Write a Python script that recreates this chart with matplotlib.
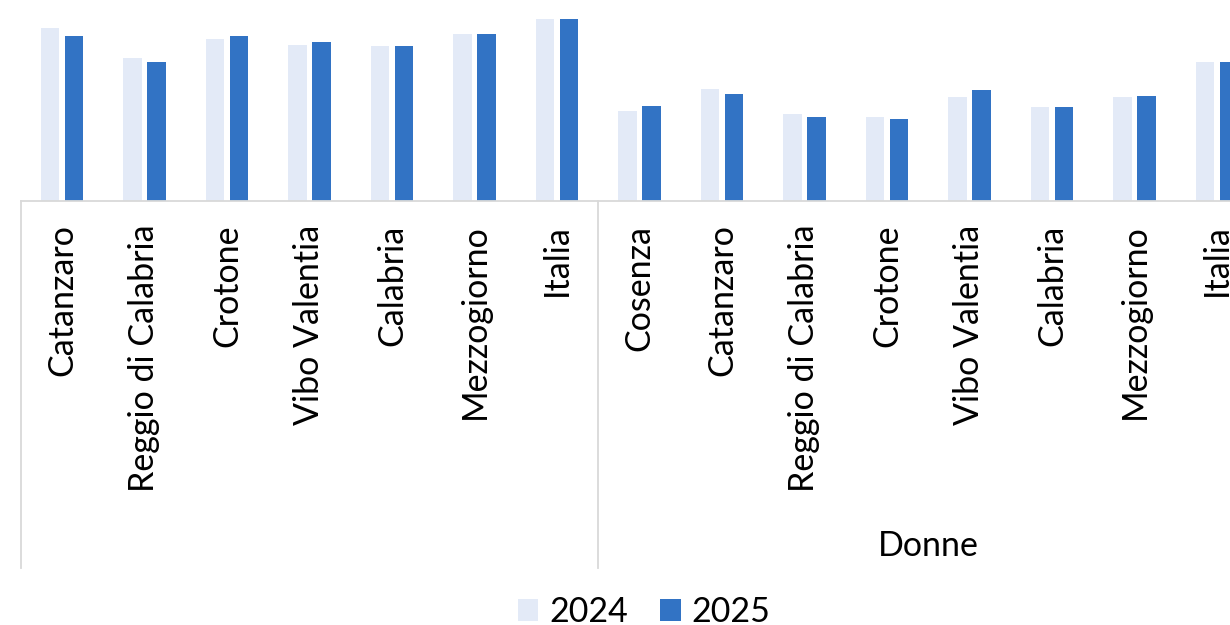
import matplotlib
matplotlib.use("Agg")
import matplotlib.pyplot as plt
from matplotlib.patches import Patch
import numpy as np

# Category labels (two groups on a shared axis)
uomini_labels = ["Catanzaro", "Reggio di Calabria", "Crotone", "Vibo Valentia",
                 "Calabria", "Mezzogiorno", "Italia"]
donne_labels = ["Cosenza", "Catanzaro", "Reggio di Calabria", "Crotone",
                "Vibo Valentia", "Calabria", "Mezzogiorno", "Italia"]

# Values (%)
uomini_2024 = [72.1, 59.6, 67.6, 65.1, 64.7, 69.4, 75.8]
uomini_2025 = [68.9, 57.9, 68.8, 66.3, 64.4, 69.6, 75.7]
donne_2024 = [37.5, 46.7, 36.3, 35.0, 43.5, 39.0, 43.2, 57.9]
donne_2025 = [39.5, 44.4, 35.0, 34.3, 46.3, 39.2, 43.6, 57.9]

group_label = "Donne"
series_names = ["2024", "2025"]
colors = ["#E3EAF7", "#3273C4"]

labels = uomini_labels + donne_labels
v2024 = uomini_2024 + donne_2024
v2025 = uomini_2025 + donne_2025
x = np.arange(len(labels))

W, H, DPI = 1230, 625, 100
fig = plt.figure(figsize=(W / DPI, H / DPI), dpi=DPI)
FONT = "Lato"
FS = 24.5

base_px = 201          # baseline distance from top edge (px)
ax = fig.add_axes([0, (H - base_px) / H, 1, base_px / H])

step_px = 82.5
x0_px = 62
ax.set_xlim((0 - x0_px) / step_px, (W - x0_px) / step_px)
px_per_unit = 2.4
ax.set_ylim(0, base_px / px_per_unit)

bw = 0.224
off = 0.143
ax.bar(x - off, v2024, width=bw, color=colors[0], edgecolor="none")
ax.bar(x + off, v2025, width=bw, color=colors[1], edgecolor="none")

for s in ["top", "left", "right"]:
    ax.spines[s].set_visible(False)
ax.spines["bottom"].set_color("#D9D9D9")
ax.spines["bottom"].set_linewidth(1.3)
ax.spines["bottom"].set_bounds(-0.5, len(labels))
ax.set_yticks([])

ax.set_xticks(x)
ax.set_xticklabels(labels, rotation=90, fontsize=FS, family=FONT, va="top", ha="center")
ax.tick_params(axis="x", length=0, pad=17)

# group separators on the category axis
sep_depth = -(568 - base_px) / px_per_unit
for xs in [-0.5, len(uomini_labels) - 0.5]:
    ax.plot([xs, xs], [0, sep_depth], color="#D9D9D9", lw=1.3, clip_on=False)

# group label
gx = (len(uomini_labels) - 0.5 + len(labels) - 0.5) / 2
ax.text(gx, -(546 - base_px) / px_per_unit, group_label, fontsize=FS, family=FONT,
        ha="center", va="center", clip_on=False)

handles = [Patch(facecolor=c, edgecolor="none") for c in colors]
fig.legend(handles, series_names, loc="center", ncol=2, frameon=False,
           bbox_to_anchor=(644 / W, 1 - 612 / H), prop={"family": FONT, "size": FS},
           handlelength=0.6, handleheight=0.6, handletextpad=0.32, columnspacing=0.95,
           borderpad=0.1)

fig.savefig("out.png", dpi=DPI)
